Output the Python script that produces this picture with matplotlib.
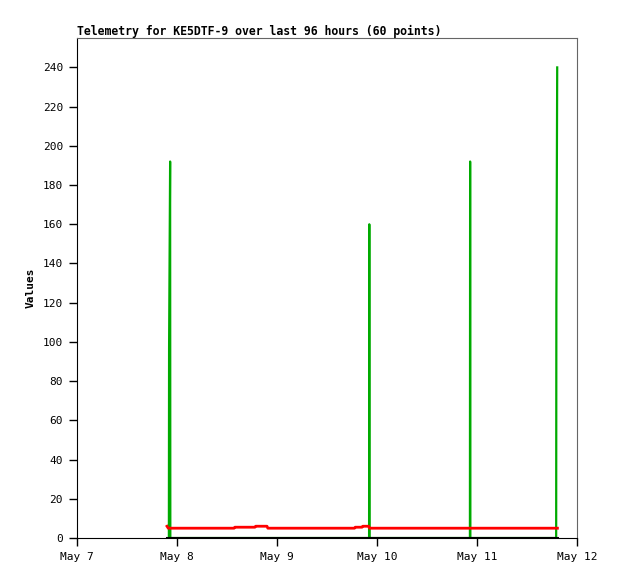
import datetime as dt
import matplotlib
matplotlib.use("Agg")
import matplotlib.pyplot as plt
import matplotlib.dates as mdates

# hours after May 7 00:00
base = dt.datetime(2024, 5, 7)

zero_t = [21.6, 115.3]
zero_v = [0, 0]

red_t = [21.6, 21.9, 37.7, 37.9, 42.7, 42.9, 45.6, 45.8, 66.6, 66.8,
         68.4, 68.6, 70.0, 70.2, 115.3]
red_v = [6, 5, 5, 5.5, 5.5, 6, 6, 5, 5, 5.5,
         5.5, 6, 6, 5, 5]

green_t = [22.05, 22.1, 22.35, 22.4, 70.1, 70.15, 70.2,
           94.3, 94.35, 94.4, 115.0, 115.05, 115.25]
green_v = [0, 97, 192, 0, 0, 160, 0,
           0, 192, 0, 0, 120, 240]

title = "Telemetry for KE5DTF-9 over last 96 hours (60 points)"


def to_dates(hours):
    return [base + dt.timedelta(hours=h) for h in hours]


plt.rcParams['font.family'] = ['DejaVu Sans Mono']
fig = plt.figure(figsize=(6.18, 5.79), dpi=100)
ax = fig.add_axes([77 / 618, 41 / 579, 500 / 618, 500 / 579])

ax.plot(to_dates(green_t), green_v, color="#00aa00", lw=1.6)
ax.plot(to_dates(red_t), red_v, color="#ff0000", lw=2.0)
ax.plot(to_dates(zero_t), zero_v, color="#000000", lw=2.2)

ax.set_xlim(base, base + dt.timedelta(days=5))
ax.set_ylim(0, 255)
ax.set_yticks(range(0, 241, 20))
ax.xaxis.set_major_locator(mdates.DayLocator())
ax.xaxis.set_major_formatter(
    plt.FuncFormatter(lambda v, p: mdates.num2date(v).strftime("%b ") + str(mdates.num2date(v).day)))

ax.tick_params(labelsize=8, length=6, width=1, colors="black", pad=4)
ax.set_ylabel("Values", fontsize=8, fontweight="bold", labelpad=5)
ax.set_title(title, fontsize=8.3, fontweight="bold", loc="left", pad=2)

for side in ["top", "right"]:
    ax.spines[side].set_color("#666666")
ax.spines["left"].set_color("black")
ax.spines["bottom"].set_color("black")

fig.savefig("out.png", dpi=100)
